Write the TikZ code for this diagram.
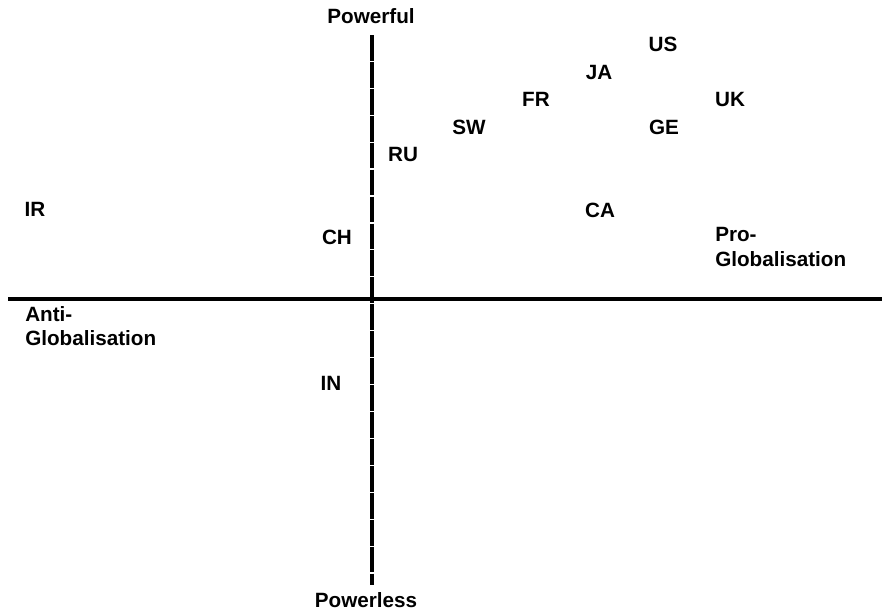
\documentclass[tikz,border=0pt]{standalone}
\usepackage{fontspec}
\setmainfont{Liberation Sans}
\usetikzlibrary{positioning}

\begin{document}
\begin{tikzpicture}[x=0.75pt, y=-0.75pt,
    every node/.style={inner sep=0pt, font=\fontsize{15.5}{18.5}\selectfont\bfseries},
    axis/.style={line width=2.3pt},
    powaxis/.style={axis, dash pattern=on 19.3pt off 0.9pt}]

        \useasboundingbox (0,0) rectangle (882,614);

        % axis end points
        \coordinate (west) at (8, 299);
        \coordinate (east) at (882, 299);
        \coordinate (top) at (372, 35);
        \coordinate (bottom) at (372, 585);

        \draw[axis] (west) -- (east);
        \draw[powaxis] (top) -- (bottom);

        \node (powerful) at (371, 16) {Powerful};
        \node (powerless) at (366, 600) {Powerless};
        \node[anchor=west, align=left] (pro) at (715, 247) {Pro-\\Globalisation};
        \node[anchor=west, align=left] (anti) at (25, 326) {Anti-\\Globalisation};

        % countries
        \node (us) at (663, 44) {US};
        \node (ja) at (599, 72) {JA};
        \node (fr) at (536, 99) {FR};
        \node (uk) at (730, 99) {UK};
        \node (sw) at (469, 127) {SW};
        \node (ge) at (664, 127) {GE};
        \node (ru) at (403, 154) {RU};
        \node (ir) at (35, 209) {IR};
        \node (ca) at (600, 210) {CA};
        \node (ch) at (337, 237) {CH};
        \node (in) at (331, 383) {IN};

\end{tikzpicture}
\end{document}
